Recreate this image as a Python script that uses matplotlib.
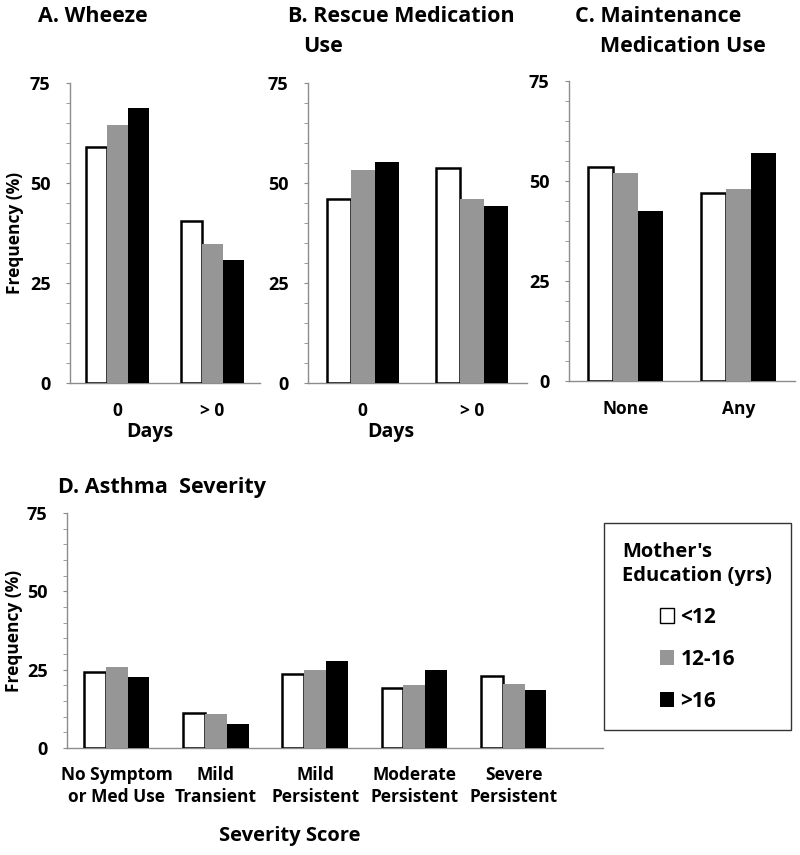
import numpy as np
import matplotlib.pyplot as plt
from matplotlib.ticker import MultipleLocator
from matplotlib.patches import Patch

plt.rcParams['font.family'] = ['Open Sans', 'DejaVu Sans']
plt.rcParams['font.weight'] = 'bold'

groups = ['<12', '12-16', '>16']
colors = ['white', '#969696', 'black']

wheeze_cats = ['0', '> 0']
wheeze = {'<12': [59.0, 40.5], '12-16': [64.5, 34.8], '>16': [68.7, 30.7]}

rescue_cats = ['0', '> 0']
rescue = {'<12': [46.0, 53.8], '12-16': [53.3, 46.1], '>16': [55.2, 44.3]}

maint_cats = ['None', 'Any']
maint = {'<12': [53.5, 46.9], '12-16': [52.0, 47.9], '>16': [42.4, 57.1]}

sev_cats = ['No Symptom\nor Med Use', 'Mild\nTransient', 'Mild\nPersistent',
            'Moderate\nPersistent', 'Severe\nPersistent']
severity = {'<12': [24.1, 11.3, 23.5, 19.0, 23.1],
            '12-16': [25.8, 11.0, 25.0, 20.0, 20.3],
            '>16': [22.8, 7.7, 27.9, 25.0, 18.4]}

W, H = 800, 855
fig = plt.figure(figsize=(W / 100, H / 100), dpi=100)


def px_axes(x0, y0, x1, y1):
    # pixel box (top-left origin) -> figure axes
    return fig.add_axes([x0 / W, 1 - y1 / H, (x1 - x0) / W, (y1 - y0) / H])


def draw_bars(ax, cats, data, xmax, xpad=13):
    x = np.arange(len(cats))
    bw = 0.22
    for i, g in enumerate(groups):
        if g == '<12':
            ax.bar(x + (i - 1) * bw, data[g], bw, color='white', edgecolor='black', linewidth=1.8, zorder=3)
        else:
            ax.bar(x + (i - 1) * bw, data[g], bw, color=colors[i], linewidth=0, zorder=3)
    ax.set_xlim(-0.5, xmax)
    ax.set_ylim(0, 75)
    ax.set_xticks(x)
    ax.set_xticklabels(cats, fontsize=12.5, fontweight='bold', linespacing=1.25)
    ax.set_yticks([0, 25, 50, 75])
    ax.yaxis.set_minor_locator(MultipleLocator(5))
    ax.tick_params(axis='y', which='major', labelsize=13, length=3, color='#8c8c8c', pad=11)
    ax.tick_params(axis='y', which='minor', length=3, color='#8c8c8c')
    ax.tick_params(axis='x', length=0, pad=xpad)
    for s in ['top', 'right']:
        ax.spines[s].set_visible(False)
    for s in ['left', 'bottom']:
        ax.spines[s].set_color('#8c8c8c')
        ax.spines[s].set_linewidth(1)


axA = px_axes(70, 83, 260, 383)
draw_bars(axA, wheeze_cats, wheeze, 1.5, xpad=14)
axA.set_ylabel('Frequency (%)', fontsize=12.5, fontweight='bold')
axA.yaxis.set_label_coords(-0.24, 0.5)
axA.set_xlabel('Days', fontsize=14, fontweight='bold')
axA.xaxis.set_label_coords(0.42, -0.13)

axB = px_axes(308, 83, 527, 383)
draw_bars(axB, rescue_cats, rescue, 1.5, xpad=14)
axB.set_xlabel('Days', fontsize=14, fontweight='bold')
axB.xaxis.set_label_coords(0.38, -0.13)

axC = px_axes(569, 81, 795, 381)
draw_bars(axC, maint_cats, maint, 1.5, xpad=14)

axD = px_axes(67, 513, 603, 748)
draw_bars(axD, sev_cats, severity, 4.9)
axD.set_ylabel('Frequency (%)', fontsize=12.5, fontweight='bold')
axD.yaxis.set_label_coords(-0.082, 0.5)
axD.set_xlabel('Severity Score', fontsize=14.5, fontweight='bold')
axD.xaxis.set_label_coords(0.416, -0.33)

tkw = dict(fontsize=15.5, fontweight='bold', va='center', ha='left')
fig.text(38 / W, 1 - 17 / H, 'A. Wheeze', **tkw)
fig.text(288 / W, 1 - 17 / H, 'B. Rescue Medication', **tkw)
fig.text(303 / W, 1 - 46 / H, 'Use', **tkw)
fig.text(575 / W, 1 - 17 / H, 'C. Maintenance', **tkw)
fig.text(600 / W, 1 - 46 / H, 'Medication Use', **tkw)
fig.text(58 / W, 1 - 487 / H, 'D. Asthma  Severity', **tkw)

handles = [Patch(facecolor=c, edgecolor='black', linewidth=1.0 if c == 'white' else 0) for c in colors]
leg = fig.legend(handles, groups, loc='upper right', bbox_to_anchor=(791 / W, 1 - 523 / H),
                 title="Mother's\nEducation (yrs)", fontsize=15, title_fontsize=14.5,
                 frameon=True, fancybox=False, edgecolor='black', borderpad=0.9,
                 borderaxespad=0, labelspacing=1.0, handlelength=0.7, handleheight=0.7,
                 handletextpad=0.3, alignment='center')
leg.get_frame().set_linewidth(1.0)
leg.get_title().set_fontweight('bold')
leg.get_title().set_multialignment('left')
leg.get_title().set_linespacing(1.3)
for t in leg.get_texts():
    t.set_fontweight('bold')

fig.savefig('out.png', dpi=100)
